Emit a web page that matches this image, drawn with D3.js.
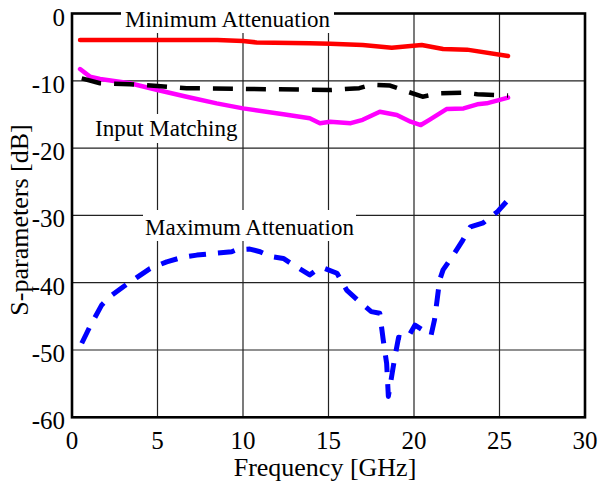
<!DOCTYPE html>
<html>
<head>
<meta charset="utf-8">
<script src="https://cdn.jsdelivr.net/npm/d3@7"></script>
</head>
<body style="margin:0">
<svg id="chart" width="599" height="482"></svg>
<script>
// Frequency axis ticks [GHz] and S-parameter ticks [dB]
const xTicks = [0, 5, 10, 15, 20, 25, 30];
const yTicks = [0, -10, -20, -30, -40, -50, -60];

// Minimum attenuation (red, solid)
const minAttFreq = [0.47, 5, 8.5, 10, 10.8, 13.9, 15.1, 17.0, 18.7, 19.96, 20.45, 21.7, 23.1, 25.5];
const minAttDb = [-3.94, -3.94, -3.94, -4.09, -4.3, -4.43, -4.5, -4.68, -5.08, -4.78, -4.68, -5.27, -5.37, -6.31];

// Input matching (magenta, solid)
const matchFreq = [0.47, 1.05, 1.64, 3.39, 5.0, 6.7, 8.46, 10.0, 12.36, 13.9, 14.5, 15.1, 16.3, 17.0,
  18.0, 19.0, 19.8, 20.4, 20.9, 21.9, 22.9, 23.7, 24.25, 25.5];
const matchDb = [-8.25, -9.38, -9.73, -10.37, -11.37, -12.36, -13.35, -14.1, -14.98, -15.57, -16.3, -16.07, -16.3, -15.8,
  -14.6, -15.08, -16.07, -16.57, -15.8, -14.2, -14.1, -13.5, -13.35, -12.5];

// Second matching trace (black, dashed)
const match2Freq = [0.57, 1.64, 3.39, 5, 6.7, 10, 15.1, 16.8, 17.5, 18.6, 19.6, 20.5, 21.5, 22.9, 23.7, 25.5];
const match2Db = [-9.63, -10.37, -10.5, -10.77, -11.1, -11.2, -11.37, -11.1, -10.6, -10.7, -11.6, -12.36, -11.86, -11.76, -12.0, -12.2];

// Maximum attenuation (blue, dashed)
const maxAttFreq = [0.57, 1.05, 1.74, 2.2, 3.0, 3.78, 4.56, 5.54, 6.5, 7.3, 8.46, 9.34, 9.63, 10.4, 11.0, 11.6,
  12.36, 13.1, 13.9, 14.3, 14.7, 15.5, 16.06, 16.8, 17.5, 18.0, 18.2, 18.4, 18.5, 18.85, 19.1, 19.6, 20.06,
  21.0, 21.2, 21.3, 21.5, 21.7, 22.3, 22.8, 23.3, 24.05, 24.9, 25.5];
const maxAttDb = [-49.0, -46.5, -43.3, -42.1, -40.6, -39.25, -37.9, -36.9, -36.2, -35.9, -35.6, -35.4, -35.1, -35.0, -35.4, -36.1,
  -36.4, -37.6, -38.85, -38.1, -37.8, -38.6, -41.1, -42.8, -44.3, -44.55, -48.5, -52.0, -56.9, -51.5, -48.1, -48.3, -46.3,
  -47.8, -45.5, -43.6, -39.6, -38.1, -35.9, -33.9, -31.7, -31.1, -29.4, -27.7];

const labels = ["Minimum Attenuation", "Input Matching", "Maximum Attenuation"];
const xTitle = "Frequency [GHz]";
const yTitle = "S-parameters [dB]";

const serifFamily = "Liberation Serif";
const fontStack = () => `'${serifFamily}', monospace`;

const svg = d3.select("#chart");

const x = d3.scaleLinear().domain([0, 30]).range([72, 585]);
const y = d3.scaleLinear().domain([-60, 0]).range([417.3, 13.5]);

/* Grid */
const grid = svg.append("g").attr("stroke", "#222").attr("stroke-width", 1.2);
grid.selectAll("line.v")
  .data(xTicks.slice(1, -1))
  .join("line")
  .attr("class", "v")
  .attr("x1", (d) => x(d)).attr("x2", (d) => x(d))
  .attr("y1", y(0)).attr("y2", y(-60));
grid.selectAll("line.h")
  .data(yTicks.slice(1, -1))
  .join("line")
  .attr("class", "h")
  .attr("x1", x(0)).attr("x2", x(30))
  .attr("y1", (d) => y(d)).attr("y2", (d) => y(d));

/* Frame */
svg.append("rect")
  .attr("x", x(0)).attr("y", y(0))
  .attr("width", x(30) - x(0)).attr("height", y(-60) - y(0))
  .attr("fill", "none").attr("stroke", "#000").attr("stroke-width", 2.6);

/* Tick labels */
svg.append("g")
  .selectAll("text")
  .data(xTicks)
  .join("text")
  .attr("x", (d) => x(d))
  .attr("y", 449)
  .attr("text-anchor", "middle")
  .attr("font-size", 25)
  .style("font-family", fontStack)
  .text((d) => d);

svg.append("g")
  .selectAll("text")
  .data(yTicks)
  .join("text")
  .attr("x", 65)
  .attr("y", (d) => y(d) + 12)
  .attr("text-anchor", "end")
  .attr("font-size", 25)
  .style("font-family", fontStack)
  .text((d) => d);

/* Axis titles */
svg.append("text")
  .attr("x", 325).attr("y", 476)
  .attr("text-anchor", "middle")
  .attr("font-size", 26)
  .style("font-family", fontStack)
  .text(xTitle);

svg.append("text")
  .attr("transform", "translate(28,220) rotate(-90)")
  .attr("text-anchor", "middle")
  .attr("font-size", 26)
  .style("font-family", fontStack)
  .text(yTitle);

/* Annotation boxes (white background hides grid) */
const boxes = [
  { x0: 121, y0: 4, x1: 334, y1: 33, tx: 125, ty: 27.3 },
  { x0: 92, y0: 114, x1: 240, y1: 143, tx: 95, ty: 136 },
  { x0: 143, y0: 210, x1: 356, y1: 241, tx: 145, ty: 235 },
];
const ann = svg.append("g");
ann.selectAll("rect")
  .data(boxes)
  .join("rect")
  .attr("x", (d) => d.x0).attr("y", (d) => d.y0)
  .attr("width", (d) => d.x1 - d.x0).attr("height", (d) => d.y1 - d.y0)
  .attr("fill", "#fff");
ann.selectAll("text")
  .data(boxes)
  .join("text")
  .attr("x", (d) => d.tx).attr("y", (d) => d.ty)
  .attr("font-size", 23)
  .style("font-family", fontStack)
  .text((d, i) => labels[i]);

/* Curves */
const line = d3.line().x((d) => x(d[0])).y((d) => y(d[1]));
const series = [
  { f: minAttFreq, v: minAttDb, color: "#ff0000", width: 4.5, dash: null },
  { f: matchFreq, v: matchDb, color: "#ff00ff", width: 4.5, dash: null },
  { f: match2Freq, v: match2Db, color: "#000000", width: 4.5, dash: "20,13" },
  { f: maxAttFreq, v: maxAttDb, color: "#0000ff", width: 5, dash: "17,12" },
];
svg.append("g")
  .selectAll("path")
  .data(series)
  .join("path")
  .attr("fill", "none")
  .attr("stroke", (d) => d.color)
  .attr("stroke-width", (d) => d.width)
  .attr("stroke-linejoin", "round")
  .attr("stroke-linecap", (d) => (d.dash ? "butt" : "round"))
  .attr("stroke-dasharray", (d) => d.dash)
  .attr("d", (d) => line(d3.zip(d.f, d.v)));
</script>
</body>
</html>
